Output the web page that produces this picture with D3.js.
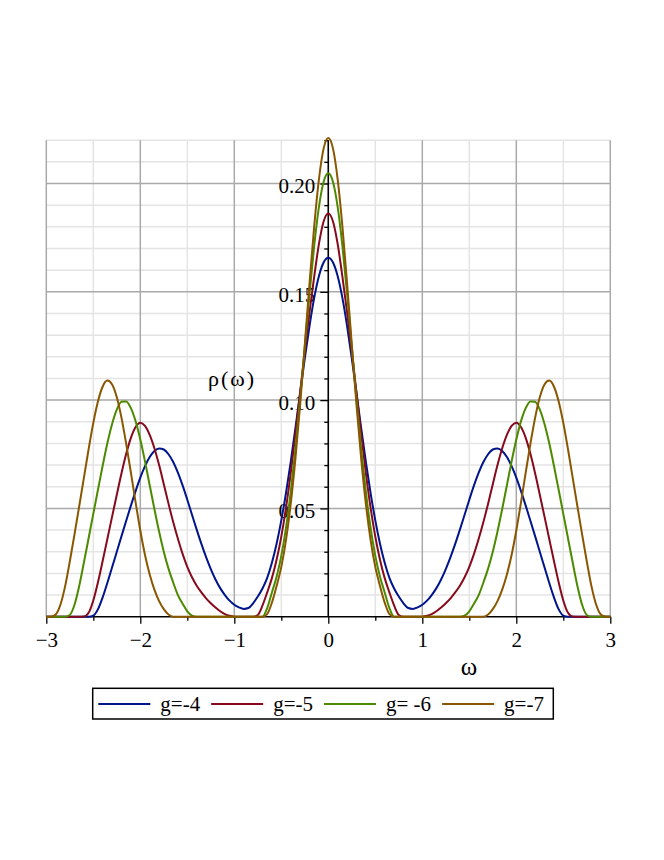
<!DOCTYPE html>
<html><head><meta charset="utf-8">
<script src="https://cdn.jsdelivr.net/npm/d3@7"></script>
<style>body{margin:0;background:#fff}</style>
</head><body><svg id="c" width="664" height="860"></svg>
<script>
// ---- data ----
const omega = [-3,-2.95,-2.9,-2.85,-2.8,-2.75,-2.7,-2.65,-2.6,-2.55,-2.5,-2.45,-2.4,-2.35,-2.3,-2.25,-2.2,-2.15,-2.1,-2.05,-2,-1.95,-1.9,-1.85,-1.8,-1.75,-1.7,-1.65,-1.6,-1.55,-1.5,-1.45,-1.4,-1.35,-1.3,-1.25,-1.2,-1.15,-1.1,-1.05,-1,-0.95,-0.9,-0.85,-0.8,-0.75,-0.7,-0.65,-0.6,-0.55,-0.5,-0.45,-0.4,-0.35,-0.3,-0.25,-0.2,-0.15,-0.1,-0.05,0,0.05,0.1,0.15,0.2,0.25,0.3,0.35,0.4,0.45,0.5,0.55,0.6,0.65,0.7,0.75,0.8,0.85,0.9,0.95,1,1.05,1.1,1.15,1.2,1.25,1.3,1.35,1.4,1.45,1.5,1.55,1.6,1.65,1.7,1.75,1.8,1.85,1.9,1.95,2,2.05,2.1,2.15,2.2,2.25,2.3,2.35,2.4,2.45,2.5,2.55,2.6,2.65,2.7,2.75,2.8,2.85,2.9,2.95,3];

const rhoG4 = [0,0,0,0,0,0,0,0,0,0,0.0005,0.0035,0.0090,0.0157,0.0228,0.0300,0.0372,0.0443,0.0513,0.0580,0.0642,0.0695,0.0737,0.0765,0.0777,0.0772,0.0750,0.0714,0.0665,0.0606,0.0540,0.0471,0.0402,0.0336,0.0275,0.0220,0.0172,0.0132,0.0100,0.0074,0.0055,0.0043,0.0036,0.0040,0.0062,0.0093,0.0130,0.0179,0.0249,0.0337,0.0445,0.0571,0.0714,0.0870,0.1032,0.1193,0.1342,0.1472,0.1572,0.1635,
  0.1657,
  0.1635,0.1572,0.1472,0.1342,0.1193,0.1032,0.0870,0.0714,0.0571,0.0445,0.0337,0.0249,0.0179,0.0130,0.0093,0.0062,0.0040,0.0036,0.0043,0.0055,0.0074,0.0100,0.0132,0.0172,0.0220,0.0275,0.0336,0.0402,0.0471,0.0540,0.0606,0.0665,0.0714,0.0750,0.0772,0.0777,0.0765,0.0737,0.0695,0.0642,0.0580,0.0513,0.0443,0.0372,0.0300,0.0228,0.0157,0.0090,0.0035,0.0005,0,0,0,0,0,0,0,0,0,0];

const rhoG5 = [0,0,0,0,0,0,0,0,0.0001,0.0018,0.0075,0.0160,0.0258,0.0360,0.0462,0.0563,0.0662,0.0752,0.0826,0.0876,0.0896,0.0881,0.0840,0.0778,0.0700,0.0612,0.0522,0.0437,0.0360,0.0290,0.0230,0.0182,0.0143,0.0112,0.0085,0.0062,0.0042,0.0025,0.0012,0.0004,0,0,0,0,0,0.0008,0.0052,0.0112,0.0178,0.0263,0.0370,0.0503,0.0662,0.0843,0.1035,0.1225,0.1405,0.1570,0.1720,0.1825,
  0.1862,
  0.1825,0.1720,0.1570,0.1405,0.1225,0.1035,0.0843,0.0662,0.0503,0.0370,0.0263,0.0178,0.0112,0.0052,0.0008,0,0,0,0,0,0.0004,0.0012,0.0025,0.0042,0.0062,0.0085,0.0112,0.0143,0.0182,0.0230,0.0290,0.0360,0.0437,0.0522,0.0612,0.0700,0.0778,0.0840,0.0881,0.0896,0.0876,0.0826,0.0752,0.0662,0.0563,0.0462,0.0360,0.0258,0.0160,0.0075,0.0018,0.0001,0,0,0,0,0,0,0,0];

const rhoG6 = [0,0,0,0,0,0.0008,0.0055,0.0142,0.0250,0.0362,0.0475,0.0587,0.0698,0.0802,0.0890,0.0956,0.0992,0.0994,0.0963,0.0903,0.0818,0.0717,0.0607,0.0497,0.0393,0.0300,0.0222,0.0158,0.0100,0.0060,0.0025,0.0005,0,0,0,0,0,0,0,0,0,0,0,0,0,0,0,0.0040,0.0112,0.0185,0.0281,0.0410,0.0575,0.0774,0.1002,0.1247,0.1490,0.1712,0.1891,0.2007,
  0.2047,
  0.2007,0.1891,0.1712,0.1490,0.1247,0.1002,0.0774,0.0575,0.0410,0.0281,0.0185,0.0112,0.0040,0,0,0,0,0,0,0,0,0,0,0,0,0,0,0,0.0005,0.0025,0.0060,0.0100,0.0158,0.0222,0.0300,0.0393,0.0497,0.0607,0.0717,0.0818,0.0903,0.0963,0.0994,0.0992,0.0956,0.0890,0.0802,0.0698,0.0587,0.0475,0.0362,0.0250,0.0142,0.0055,0.0008,0,0,0,0,0];

const rhoG7 = [0,0,0.0010,0.0055,0.0140,0.0255,0.0380,0.0510,0.0641,0.0773,0.0895,0.0995,0.1063,0.1090,0.1072,0.1013,0.0918,0.0798,0.0665,0.0528,0.0398,0.0285,0.0195,0.0125,0.0072,0.0035,0.0010,0,0,0,0,0,0,0,0,0,0,0,0,0,0,0,0,0,0,0,0,0.0012,0.0065,0.0142,0.0230,0.0354,0.0520,0.0729,0.0978,0.1255,0.1538,0.1802,0.2018,0.2161,
  0.2210,
  0.2161,0.2018,0.1802,0.1538,0.1255,0.0978,0.0729,0.0520,0.0354,0.0230,0.0142,0.0065,0.0012,0,0,0,0,0,0,0,0,0,0,0,0,0,0,0,0,0,0,0,0,0.0010,0.0035,0.0072,0.0125,0.0195,0.0285,0.0398,0.0528,0.0665,0.0798,0.0918,0.1013,0.1072,0.1090,0.1063,0.0995,0.0895,0.0773,0.0641,0.0510,0.0380,0.0255,0.0140,0.0055,0.0010,0,0];

const seriesNames = ["g=-4", "g=-5", "g= -6", "g=-7"];
const seriesColors = ["#00148c", "#860a1c", "#4c8a00", "#8a5600"];

const xTickValues = [-3, -2, -1, 0, 1, 2, 3];
const xTickLabels = ["\u22123", "\u22122", "\u22121", "0", "1", "2", "3"];
const xMinorTicks = [-2.5, -1.5, -0.5, 0.5, 1.5, 2.5];
const yTickValues = [0.05, 0.10, 0.15, 0.20];
const yTickLabels = ["0.05", "0.10", "0.15", "0.20"];
const yMinorTicks = [0.01,0.02,0.03,0.04,0.06,0.07,0.08,0.09,0.11,0.12,0.13,0.14,0.16,0.17,0.18,0.19,0.21,0.22];
const xLabel = "\u03c9";
const yLabel = "\u03c1(\u03c9)";

// ---- drawing ----
const series = [rhoG4, rhoG5, rhoG6, rhoG7];
series.forEach((s, k) => { if (s.length !== omega.length) console.error("length mismatch", k, s.length); });

const FONT = '"Liberation Serif","Times New Roman",serif';
const svg = d3.select("#c");
const x = d3.scaleLinear().domain([-3, 3]).range([46.3, 610.3]);
const y = d3.scaleLinear().domain([0, 0.22]).range([616.7, 140.2]);

// grid
const grid = svg.append("g");
grid.selectAll("line.vmin").data(xMinorTicks).join("line")
  .attr("x1", d => x(d)).attr("x2", d => x(d)).attr("y1", y(0)).attr("y2", y(0.22))
  .attr("stroke", "#e4e4e4").attr("stroke-width", 1.5);
grid.selectAll("line.hmin").data(yMinorTicks).join("line")
  .attr("x1", x(-3)).attr("x2", x(3)).attr("y1", d => y(d)).attr("y2", d => y(d))
  .attr("stroke", "#e4e4e4").attr("stroke-width", 1.5);
const grid2 = svg.append("g");
grid2.selectAll("line").data(xTickValues).join("line")
  .attr("x1", d => x(d)).attr("x2", d => x(d)).attr("y1", y(0)).attr("y2", y(0.22))
  .attr("stroke", "#a9a9a9").attr("stroke-width", 1.5);
const grid3 = svg.append("g");
grid3.selectAll("line").data(yTickValues).join("line")
  .attr("x1", x(-3)).attr("x2", x(3)).attr("y1", d => y(d)).attr("y2", d => y(d))
  .attr("stroke", "#a9a9a9").attr("stroke-width", 1.5);

function styleAxis(g) {
  g.select(".domain").remove();
  g.selectAll(".tick line").attr("stroke", "#000").attr("stroke-width", 1.3);
  g.selectAll(".tick text").attr("fill", "#000").style("font-family", FONT).style("font-size", "21px");
}

// x axis
svg.append("g").attr("transform", `translate(0,${y(0)})`)
  .call(d3.axisBottom(x).tickValues(xMinorTicks).tickFormat("").tickSize(4).tickSizeOuter(0))
  .call(styleAxis);
svg.append("g").attr("transform", `translate(0,${y(0)})`)
  .call(d3.axisBottom(x).tickValues(xTickValues).tickFormat((d, i) => xTickLabels[i]).tickSize(7).tickPadding(8).tickSizeOuter(0))
  .call(styleAxis);
svg.append("line").attr("x1", x(-3)).attr("x2", x(3)).attr("y1", y(0)).attr("y2", y(0))
  .attr("stroke", "#000").attr("stroke-width", 1.5);

// y axis
svg.append("g").attr("transform", `translate(${x(0)},0)`)
  .call(d3.axisLeft(y).tickValues(yMinorTicks).tickFormat("").tickSize(4).tickSizeOuter(0))
  .call(styleAxis);
const yAx = svg.append("g").attr("transform", `translate(${x(0)},0)`)
  .call(d3.axisLeft(y).tickValues(yTickValues).tickFormat((d, i) => yTickLabels[i]).tickSize(8).tickPadding(5).tickSizeOuter(0))
  .call(styleAxis);
yAx.selectAll(".tick text").attr("dy", "0.45em");
svg.append("line").attr("x1", x(0)).attr("x2", x(0)).attr("y1", y(0)).attr("y2", y(0.22))
  .attr("stroke", "#000").attr("stroke-width", 1.5);

// axis labels
svg.append("text").attr("x", 208).attr("y", 386).text(yLabel)
  .style("font-family", FONT).style("font-size", "22px").style("letter-spacing", "2px");
svg.append("text").attr("x", 469).attr("y", 675).attr("text-anchor", "middle").text(xLabel)
  .style("font-family", FONT).style("font-size", "25px");

// curves
const line = d3.line().x((d, i) => x(omega[i])).y(d => y(d)).curve(d3.curveMonotoneX);
series.forEach((s, k) => {
  svg.append("path").datum(s).attr("d", line).attr("fill", "none")
    .attr("stroke", seriesColors[k]).attr("stroke-width", 2).attr("stroke-linejoin", "round");
});

// legend
const leg = svg.append("g");
const legBox = leg.append("rect").attr("fill", "#fff").attr("stroke", "#000").attr("stroke-width", 1.5);
let cx = 98.3;
const legY = 704;
seriesNames.forEach((name, k) => {
  leg.append("line").attr("x1", cx).attr("x2", cx + 52).attr("y1", legY).attr("y2", legY)
    .attr("stroke", seriesColors[k]).attr("stroke-width", 2);
  const t = leg.append("text").attr("x", cx + 62).attr("y", 711).text(name)
    .style("font-family", FONT).style("font-size", "21px").style("white-space", "pre");
  const w = t.node().getComputedTextLength();
  cx = cx + 62 + w + 11;
});
legBox.attr("x", 92.7).attr("y", 688.3).attr("width", 553.3 - 92.7).attr("height", 30.7);
</script>
</body></html>
